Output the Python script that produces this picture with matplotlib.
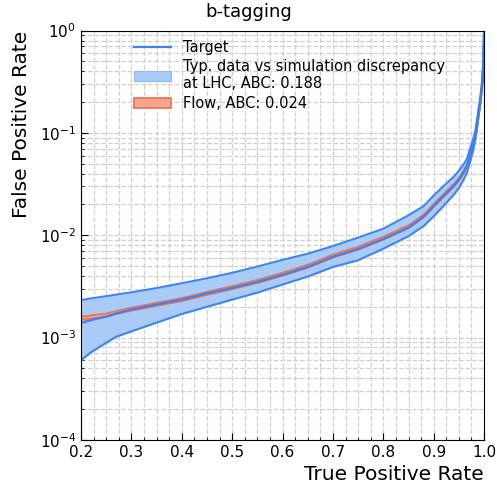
import matplotlib
matplotlib.use("Agg")
import matplotlib.pyplot as plt
from matplotlib.ticker import MultipleLocator, LogLocator, NullFormatter
import numpy as np

# true positive rate (x) and the curves
tpr = [0.20, 0.22, 0.25, 0.27, 0.30, 0.35, 0.40, 0.45, 0.50, 0.55, 0.60, 0.65,
       0.70, 0.75, 0.80, 0.85, 0.88, 0.90, 0.92, 0.94, 0.95, 0.96, 0.966,
       0.97, 0.978, 0.983, 0.988, 0.992, 0.996, 0.998, 1.0]
target = [1.39e-3, 1.48e-3, 1.60e-3, 1.72e-3, 1.88e-3, 2.10e-3, 2.35e-3, 2.70e-3,
          3.05e-3, 3.50e-3, 4.10e-3, 4.90e-3, 6.15e-3, 7.35e-3, 9.2e-3, 1.19e-2,
          1.52e-2, 1.93e-2, 2.45e-2, 3.05e-2, 3.5e-2, 4.2e-2, 4.8e-2,
          5.6e-2, 7.6e-2, 9.7e-2, 0.145, 0.2, 0.3, 0.45, 1.0]
band_lo = [6.0e-4, 7.2e-4, 8.9e-4, 1.02e-3, 1.15e-3, 1.40e-3, 1.70e-3, 2.00e-3,
           2.35e-3, 2.75e-3, 3.30e-3, 3.95e-3, 4.90e-3, 5.70e-3, 7.4e-3, 9.8e-3,
           1.23e-2, 1.53e-2, 1.95e-2, 2.5e-2, 2.9e-2, 3.55e-2, 4.1e-2,
           4.8e-2, 6.7e-2, 8.8e-2, 0.133, 0.188, 0.285, 0.435, 1.0]
band_hi = [2.32e-3, 2.42e-3, 2.54e-3, 2.63e-3, 2.77e-3, 3.05e-3, 3.40e-3, 3.80e-3,
           4.30e-3, 4.95e-3, 5.75e-3, 6.60e-3, 7.85e-3, 9.5e-3, 1.16e-2, 1.57e-2,
           1.93e-2, 2.45e-2, 3.05e-2, 3.75e-2, 4.3e-2, 5.0e-2, 5.6e-2,
           6.5e-2, 8.6e-2, 0.107, 0.16, 0.215, 0.32, 0.47, 1.0]
flow = [1.56e-3, 1.61e-3, 1.68e-3, 1.78e-3, 1.92e-3, 2.14e-3, 2.38e-3, 2.74e-3,
        3.12e-3, 3.58e-3, 4.22e-3, 5.05e-3, 6.35e-3, 7.58e-3, 9.5e-3, 1.23e-2,
        1.57e-2, 2.0e-2, 2.5e-2, 3.15e-2, 3.6e-2, 4.3e-2, 4.9e-2,
        5.7e-2, 7.8e-2, 0.1, 0.15, 0.205, 0.31, 0.46, 1.0]

abc_band = 0.188
abc_flow = 0.024

tpr = np.array(tpr)
flow = np.array(flow)

fig = plt.figure(figsize=(4.97, 4.86), dpi=100)
ax = fig.add_axes([0.163, 0.095, 0.811, 0.842])

# discrepancy band
ax.fill_between(tpr, band_lo, band_hi, facecolor="#a9cbf7", edgecolor="#8cbaf5", lw=0.8,
                label="Typ. data vs simulation discrepancy\nat LHC, ABC: %.3f" % abc_band)
ax.plot(tpr, band_lo, color="#3f86ee", lw=1.4)
ax.plot(tpr, band_hi, color="#3f86ee", lw=1.4)
# target
ax.plot(tpr, target, color="#3a82ee", lw=1.6, label="Target")
# flow
ax.fill_between(tpr, flow * 0.965, flow * 1.035, facecolor="#f4a690",
                edgecolor="#ee7455", lw=1.3, label="Flow, ABC: %.3f" % abc_flow)

ax.set_yscale("log")
ax.set_xlim(0.2, 1.0)
ax.set_ylim(1e-4, 1)
ax.xaxis.set_major_locator(MultipleLocator(0.1))
ax.xaxis.set_minor_locator(MultipleLocator(0.025))
ax.yaxis.set_major_locator(LogLocator(base=10, numticks=10))
ax.yaxis.set_minor_locator(LogLocator(base=10, subs=np.arange(2, 10), numticks=10))
ax.yaxis.set_minor_formatter(NullFormatter())
ax.tick_params(which="both", direction="in", labelsize=11)
ax.tick_params(which="major", length=5)
ax.tick_params(which="minor", length=2.5)
ax.grid(which="both", color="#d0d0d0", linestyle="--", lw=0.9)
ax.set_axisbelow(True)

fig.text(0.5, 0.975, "b-tagging", fontsize=13, ha="center", va="center")
ax.set_xlabel("True Positive Rate", fontsize=14.5, loc="right")
ax.set_ylabel("False Positive Rate", fontsize=14.5, loc="top", labelpad=6)

h, l = ax.get_legend_handles_labels()
order = [1, 0, 2]
ax.legend([h[i] for i in order], [l[i] for i in order], loc="upper left",
          bbox_to_anchor=(0.1, 1.01), frameon=False, fontsize=10.5,
          handlelength=2.5, labelspacing=0.3)

fig.savefig("out.png", dpi=100)
